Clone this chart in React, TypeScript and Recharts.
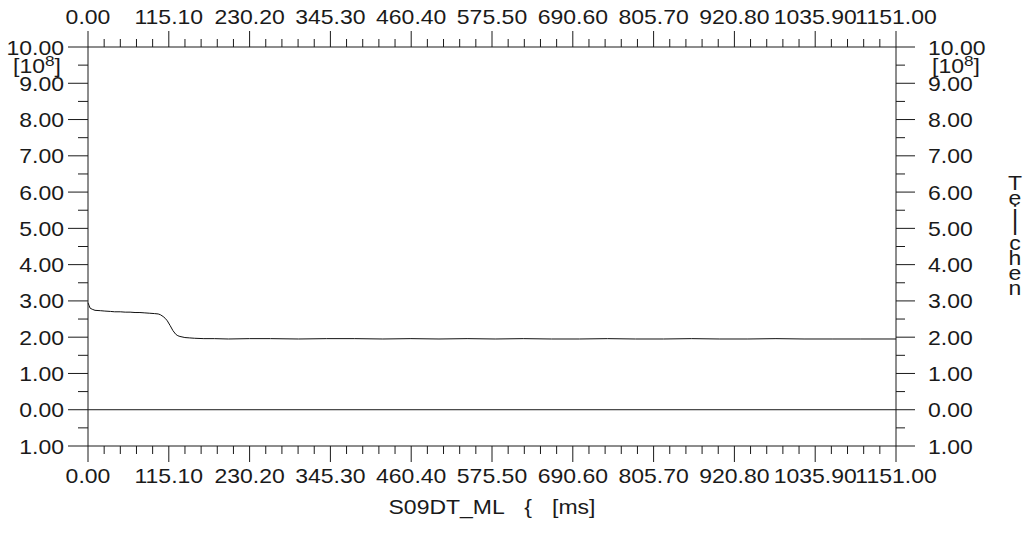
import { Line, LineChart, ReferenceLine, XAxis, YAxis } from "recharts";

// time axis [ms] and particle count [10^8]
const timeMs = [
  0, 1.4, 3, 6, 10, 18, 24, 32, 38, 46, 53, 60, 67, 74, 81, 88, 95, 100, 103, 107, 110, 113, 117,
  121, 125, 128, 131, 138, 145, 152, 165, 180, 200, 230, 260, 300, 340, 380, 420, 460, 500, 540,
  580, 620, 660, 700, 740, 780, 820, 860, 900, 940, 980, 1020, 1060, 1100, 1151,
];
const particles = [
  2.95, 2.88, 2.8, 2.77, 2.74, 2.73, 2.72, 2.71, 2.7, 2.7, 2.69, 2.69, 2.68, 2.68, 2.67, 2.66, 2.65,
  2.64, 2.62, 2.57, 2.52, 2.45, 2.32, 2.18, 2.08, 2.04, 2.02, 1.99, 1.98, 1.97, 1.96, 1.96, 1.95,
  1.96, 1.96, 1.95, 1.96, 1.96, 1.95, 1.96, 1.95, 1.96, 1.95, 1.96, 1.95, 1.95, 1.96, 1.95, 1.95,
  1.96, 1.95, 1.95, 1.96, 1.95, 1.95, 1.95, 1.95,
];

const xMajorTicks = [0, 115.1, 230.2, 345.3, 460.4, 575.5, 690.6, 805.7, 920.8, 1035.9, 1151];
const xMajorLabels = [
  "0.00", "115.10", "230.20", "345.30", "460.40", "575.50",
  "690.60", "805.70", "920.80", "1035.90", "1151.00",
];
const yMajorTicks = [-1, 0, 1, 2, 3, 4, 5, 6, 7, 8, 9, 10];
const yMajorLabels = [
  "1.00", "0.00", "1.00", "2.00", "3.00", "4.00", "5.00", "6.00", "7.00", "8.00", "9.00", "10.00",
];

const data = timeMs.map((t, i) => ({ t, v: particles[i] }));

// 4 minor ticks between x majors, 1 between y majors
const xTicks: number[] = [];
xMajorTicks.forEach((m, i) => {
  xTicks.push(m);
  if (i < xMajorTicks.length - 1) for (let k = 1; k < 5; k++) xTicks.push(m + (k * 115.1) / 5);
});
const yTicks: number[] = [];
yMajorTicks.forEach((m, i) => {
  yTicks.push(m);
  if (i < yMajorTicks.length - 1) yTicks.push(m + 0.5);
});

const FONT = "'Liberation Sans', Arial, sans-serif";
const INK = "#1a1a1a";

const xLabel = (v: number) => {
  const i = xMajorTicks.findIndex((m) => Math.abs(m - v) < 1e-6);
  return i >= 0 ? xMajorLabels[i] : null;
};
const yLabel = (v: number) => {
  const i = yMajorTicks.findIndex((m) => Math.abs(m - v) < 1e-6);
  return i >= 0 ? yMajorLabels[i] : null;
};

// the plot's font is a slightly wide Helvetica, so stretch Liberation a bit
const T = ({ x, y, anchor = "middle", size = 20, children, ...rest }: any) => (
  <text
    transform={`translate(${x},${y}) scale(1.15,1)`}
    textAnchor={anchor}
    fontSize={size}
    fontFamily={FONT}
    fill={INK}
    {...rest}
  >
    {children}
  </text>
);

const TopTick = ({ x, y, payload }: any) => {
  const lab = xLabel(payload.value);
  return (
    <g>
      <line x1={x} x2={x} y1={y} y2={y - (lab ? 16 : 8)} stroke={INK} />
      {lab && <T x={x} y={y - 23}>{lab}</T>}
    </g>
  );
};

const BottomTick = ({ x, y, payload }: any) => {
  const lab = xLabel(payload.value);
  return (
    <g>
      <line x1={x} x2={x} y1={y} y2={y + (lab ? 16 : 8)} stroke={INK} />
      {lab && <T x={x} y={y + 37}>{lab}</T>}
    </g>
  );
};

const LeftTick = ({ x, y, payload }: any) => {
  const lab = yLabel(payload.value);
  return (
    <g>
      <line x1={x} x2={x - (lab ? 20 : 10)} y1={y} y2={y} stroke={INK} />
      {lab && <T x={x - 24} y={y + 7.5} anchor="end">{lab}</T>}
    </g>
  );
};

const RightTick = ({ x, y, payload }: any) => {
  const lab = yLabel(payload.value);
  return (
    <g>
      <line x1={x} x2={x + (lab ? 19 : 9)} y1={y} y2={y} stroke={INK} />
      {lab && <T x={x + 32} y={y + 7.5} anchor="start">{lab}</T>}
    </g>
  );
};

const Unit = ({ cx, cy }: { cx: number; cy: number }) => (
  <T x={cx} y={cy}>
    [10
    <tspan dy={-7} fontSize={15}>8</tspan>
    <tspan dy={7}>]</tspan>
  </T>
);

const rightTitle = "Teilchen".split("");

const App = () => {
  return (
    <div style={{ position: "absolute", left: 0, top: 0, width: 1032, height: 533, background: "#fff" }}>
      <LineChart width={1032} height={533} data={data} margin={{ top: 0, right: 0, bottom: 0, left: 0 }}>
        <XAxis
          xAxisId="top"
          orientation="top"
          dataKey="t"
          type="number"
          domain={[0, 1151]}
          ticks={xTicks}
          interval={0}
          height={47}
          tickSize={0}
          tickMargin={0}
          tick={<TopTick />}
          axisLine={{ stroke: INK }}
          tickLine={false}
        />
        <XAxis
          xAxisId="bottom"
          orientation="bottom"
          dataKey="t"
          type="number"
          domain={[0, 1151]}
          ticks={xTicks}
          interval={0}
          height={87}
          tickSize={0}
          tickMargin={0}
          tick={<BottomTick />}
          axisLine={{ stroke: INK }}
          tickLine={false}
        />
        <YAxis
          yAxisId="left"
          orientation="left"
          type="number"
          domain={[-1, 10]}
          ticks={yTicks}
          interval={0}
          width={88}
          tickSize={0}
          tickMargin={0}
          tick={<LeftTick />}
          axisLine={{ stroke: INK }}
          tickLine={false}
        />
        <YAxis
          yAxisId="right"
          orientation="right"
          type="number"
          domain={[-1, 10]}
          ticks={yTicks}
          interval={0}
          width={136}
          tickSize={0}
          tickMargin={0}
          tick={<RightTick />}
          axisLine={{ stroke: INK }}
          tickLine={false}
        />
        <ReferenceLine xAxisId="bottom" yAxisId="left" y={0} stroke={INK} />
        <Line
          xAxisId="top"
          yAxisId="right"
          dataKey="v"
          stroke="none"
          dot={false}
          activeDot={false}
          isAnimationActive={false}
        />
        <Line
          xAxisId="bottom"
          yAxisId="left"
          type="linear"
          dataKey="v"
          stroke="#111"
          strokeWidth={1}
          dot={false}
          activeDot={false}
          isAnimationActive={false}
        />
      </LineChart>
      <svg width={1032} height={533} style={{ position: "absolute", left: 0, top: 0, pointerEvents: "none" }}>
        <Unit cx={37} cy={73} />
        <Unit cx={956} cy={73} />
        <T x={492} y={514} wordSpacing={12} style={{ whiteSpace: "pre" }}>
          S09DT_ML {"{"} [ms]
        </T>
        {rightTitle.map((ch, i) => (
          <T key={i} x={1015} y={190 + i * 15}>
            {ch}
          </T>
        ))}
      </svg>
    </div>
  );
};

export default App;
